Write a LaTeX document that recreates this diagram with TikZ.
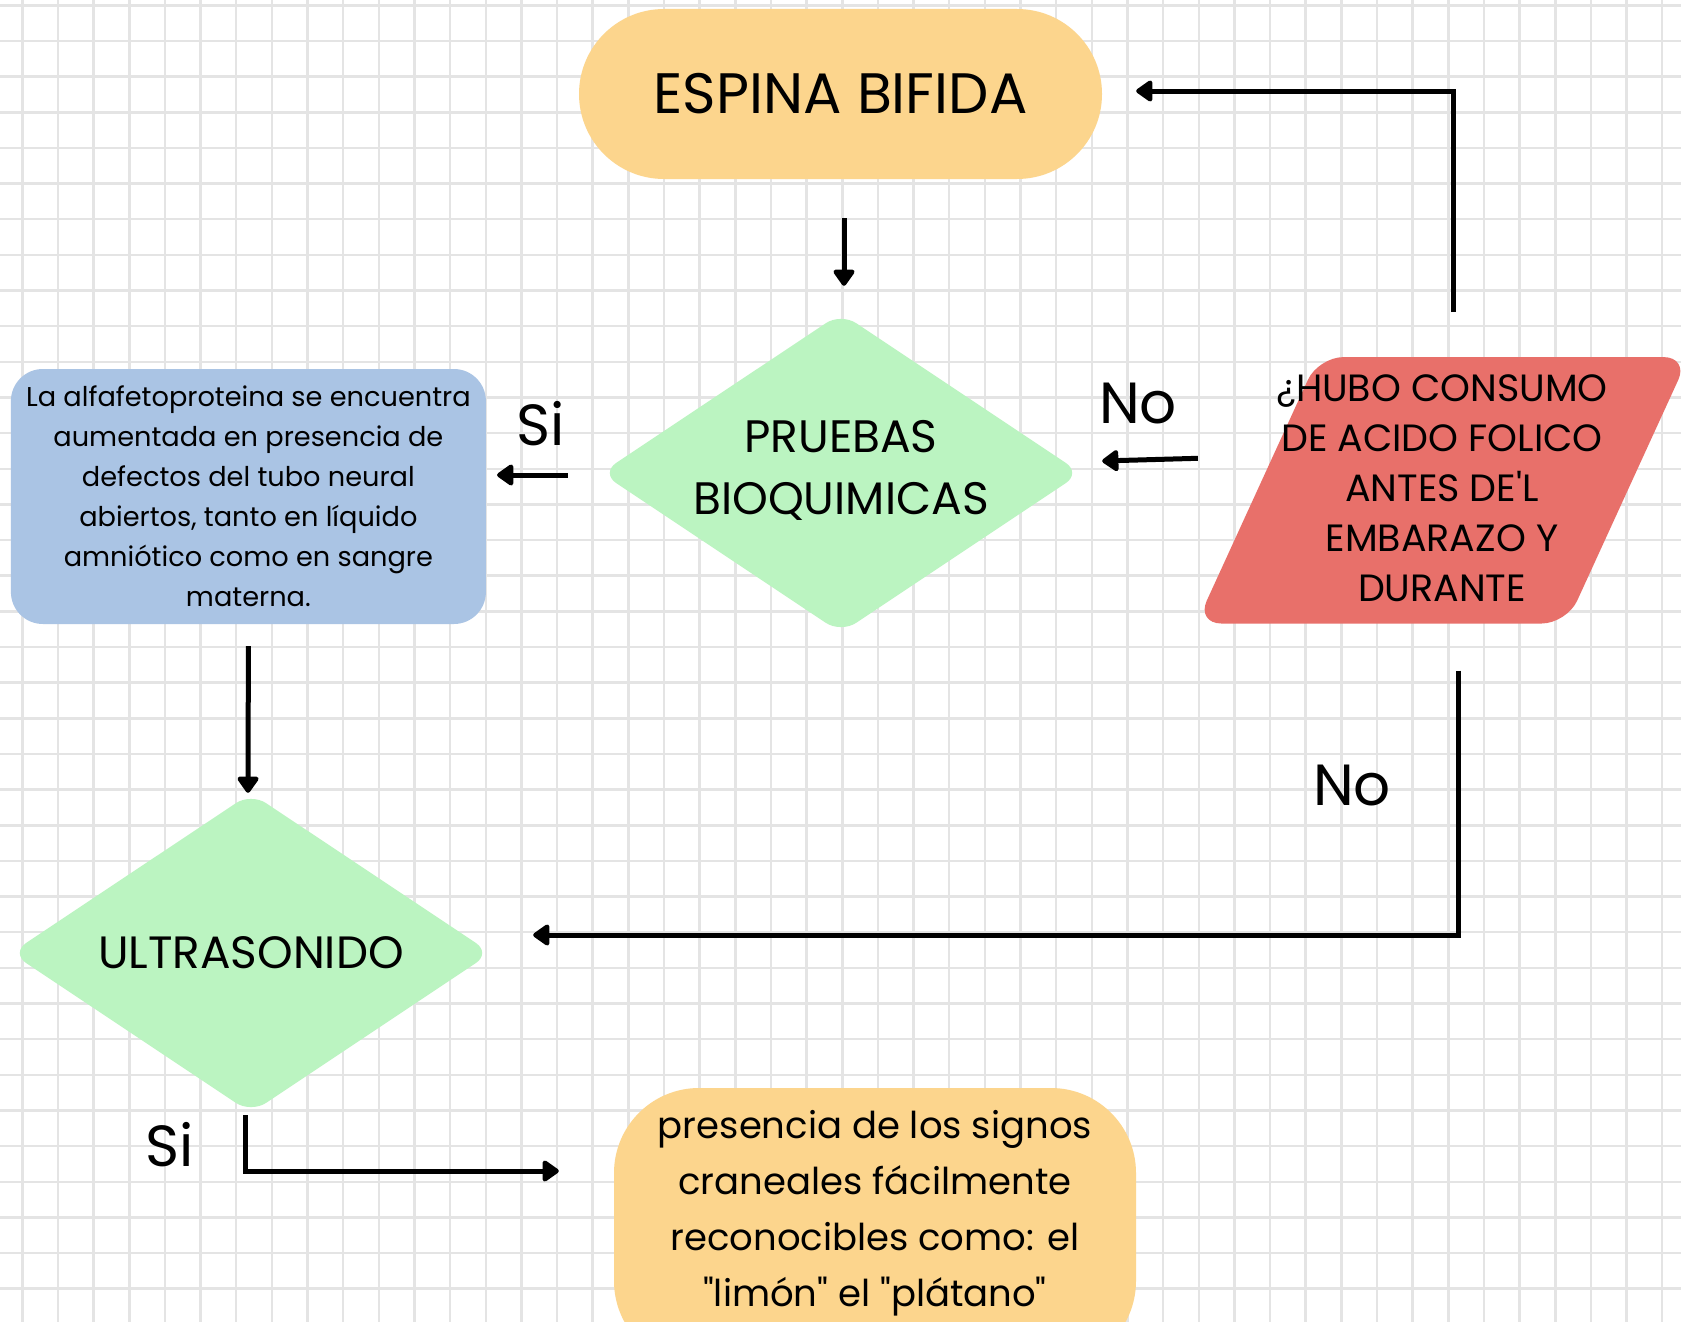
\documentclass[tikz,border=0pt]{standalone}
\usepackage{fontspec}
\setmainfont{Poppins}[Ligatures=TeXOff]
\usetikzlibrary{arrows.meta,shapes.geometric,calc}
\definecolor{gridc}{HTML}{E4E4E4}
\definecolor{orangec}{HTML}{FCD58D}
\definecolor{greenc}{HTML}{BBF4C1}
\definecolor{bluec}{HTML}{AAC4E4}
\definecolor{redc}{HTML}{E8706A}
\begin{document}
\begin{tikzpicture}[x=1pt,y=-1pt,
  gridline/.style={gridc, line width=2.5pt},
  arr/.style={line width=5pt, miter limit=10, -{Triangle[width=24pt,length=18pt,round]}},
  stadium/.style={rectangle, fill=orangec, rounded corners=85pt, inner sep=0pt, align=center},
  decision/.style={diamond, fill=greenc, rounded corners=18pt, minimum width=480pt, minimum height=320pt, inner sep=0pt},
  infobox/.style={rectangle, fill=bluec, rounded corners=32pt, minimum width=475pt, minimum height=255pt, inner sep=0pt, align=center},
  txt/.style={inner sep=0pt, align=center},
  lbl/.style={font=\fontsize{58}{60}\selectfont, inner sep=0pt}
]
\useasboundingbox (0,0) rectangle (1681,1322);
\clip (0,0) rectangle (1681,1322);
\fill[white] (0,0) rectangle (1681,1322);
\foreach \i in {0,...,46} \draw[gridline] ({22.3+35.65*\i},0) -- ++(0,1322);
\foreach \j in {0,...,37} \draw[gridline] (0,{5.3+35.65*\j}) -- ++(1681,0);

% shapes
\node[stadium, minimum width=523pt, minimum height=170pt, font=\fontsize{57}{70}\selectfont] (espina) at (840.5,94) {ESPINA BIFIDA};
\node[decision] (pruebas) at (841,473) {};
\node[txt, font=\fontsize{45.5}{62}\selectfont] (pruebastext) at (841,470.6) {PRUEBAS\\BIOQUIMICAS};
\node[infobox, font=\fontsize{27.2}{40}\selectfont] (info) at (248.4,496.5) {La alfafetoproteina se encuentra\\aumentada en presencia de\\defectos del tubo neural\\abiertos, tanto en líquido\\amniótico como en sangre\\materna.};
\node[decision] (ultra) at (251,953) {};
\node[txt, font=\fontsize{45.3}{62}\selectfont] (ultratext) at (251,953) {ULTRASONIDO};
\node[stadium, minimum width=522pt, minimum height=278pt] (signos) at (875,1227) {};
\node[txt, font=\fontsize{37}{56}\selectfont] (signostext) at (875,1212.8) {presencia de los signos\\craneales fácilmente\\reconocibles como: el\\"limón" el "plátano"};
\path (1442.5,490.3) node[minimum width=370pt, minimum height=266pt, inner sep=0pt] (hubo) {};
\fill[redc, rounded corners=25pt] ($(hubo.south west)+(-61,0)$) -- ($(hubo.north west)+(61,0)$) -- ($(hubo.north east)+(61,0)$) -- ($(hubo.south east)+(-61,0)$) -- cycle;
\node[txt, font=\fontsize{38}{50}\selectfont] (hubotext) at (1442,488.5) {¿HUBO CONSUMO\\DE ACIDO FOLICO\\ANTES DE'L\\EMBARAZO Y\\DURANTE};

% labels
\node[lbl] (si1) at (541,424) {Si};
\node[lbl] (no1) at (1138,404) {No};
\node[lbl] (no2) at (1352,786) {No};
\node[lbl] (si2) at (170,1145) {Si};

% connectors
\draw[arr] ($(espina.south)+(3.5,39)$) -- ($(pruebas.north)+(3,-27)$);
\draw[arr] ($(pruebas.west)+(-33,2)$) -- ($(info.east)+(11,-21.5)$);
\draw[arr] ($(info.south)+(0,22)$) -- ($(ultra.north)+(-3,0)$);
\draw[arr] ($(hubo.west)+(-59.5,-32)$) -- ($(pruebas.east)+(21,-12)$);
\draw[arr] ($(hubo.north)+(10.5,-45)$) |- ($(espina.east)+(34,-3)$);
\draw[arr] ($(hubo.south)+(15.5,47)$) |- ($(ultra.east)+(42,-18)$);
\draw[arr] ($(ultra.south)+(-6,2)$) |- ($(signos.west)+(-55,-56)$);
\end{tikzpicture}
\end{document}
